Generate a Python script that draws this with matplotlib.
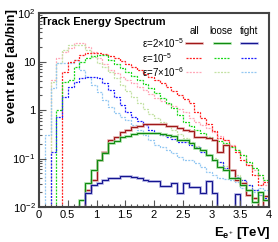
import numpy as np
import matplotlib
matplotlib.use('Agg')
import matplotlib.pyplot as plt
from matplotlib.lines import Line2D
from matplotlib.ticker import MultipleLocator, FixedLocator, LogLocator, NullFormatter

plt.rcParams['font.family'] = ['Liberation Sans', 'DejaVu Sans']
plt.rcParams['mathtext.fontset'] = 'custom'
plt.rcParams['mathtext.rm'] = 'Liberation Sans'
plt.rcParams['mathtext.it'] = 'Liberation Sans:italic'
plt.rcParams['mathtext.bf'] = 'Liberation Sans:bold'

# bins of 0.1 TeV from 0 to 4 TeV
edges = np.round(np.arange(0, 4.01, 0.1), 2)

# "all" selection
all_2e5 = [0, 0, 0, 0, 0, 0, 0, 0, 0.0225, 0.036,
           0.093, 0.136, 0.24, 0.277, 0.355, 0.39, 0.446, 0.467, 0.513, 0.51,
           0.51, 0.51, 0.47, 0.47, 0.425, 0.39, 0.372, 0.277, 0.277, 0.265,
           0.24, 0.136, 0.19, 0.058, 0.036, 0.031, 0.0177, 0.0154, 0, 0.0169]
all_1e5 = [0, 0, 0, 0, 6.1, 9.7, 10.7, 13.6, 15.0, 15.0,
           15.0, 14.3, 13.0, 11.8, 10.2, 8.9, 7.7, 6.7, 5.6, 4.8,
           4.2, 3.6, 3.0, 2.5, 2.05, 1.7, 1.4, 0.91, 0.68, 0.51,
           0.37, 0.265, 0.24, 0.18, 0.136, 0.093, 0.073, 0.046, 0.0285, 0.033]
all_7e6 = [0, 0, 4.2, 11.8, 15.7, 19.0, 24.1, 24.1, 19.9, 15.7,
           11.8, 8.9, 6.7, 5.8, 4.8, 4.2, 3.6, 3.0, 2.6, 2.15,
           1.78, 1.54, 1.33, 1.21, 1.05, 0.91, 0.68, 0.56, 0.49, 0.425,
           0.355, 0.29, 0.24, 0.19, 0.15, 0.118, 0.073, 0.058, 0.046, 0.0285]

# "loose" selection
loose_2e5 = [0, 0, 0, 0, 0, 0, 0, 0.014, 0.031, 0.058,
             0.093, 0.13, 0.208, 0.229, 0.277, 0.291, 0.323, 0.338, 0.338, 0.338,
             0.338, 0.323, 0.305, 0.291, 0.24, 0.24, 0.208, 0.165, 0.15, 0.118,
             0.093, 0.066, 0.058, 0.040, 0.040, 0.0285, 0.0225, 0.0127, 0.0205, 0.014]
loose_1e5 = [0, 0, 0, 1.0, 3.8, 4.2, 7.7, 9.7, 11.8, 13.0,
             13.6, 13.6, 10.7, 8.9, 7.4, 6.1, 5.05, 4.2, 3.46, 2.86,
             2.25, 1.78, 1.40, 1.10, 0.79, 0.56, 0.467, 0.39, 0.338, 0.277,
             0.24, 0.229, 0.208, 0.173, 0.15, 0.118, 0.085, 0.064, 0.046, 0.036]
loose_7e6 = [0, 0, 3.8, 9.35, 17.3, 21.9, 21.9, 21.9, 17.3, 12.4,
             9.35, 7.7, 6.1, 4.6, 3.3, 2.48, 1.86, 1.40, 1.05, 0.83,
             0.68, 0.56, 0.467, 0.39, 0.323, 0.265, 0.218, 0.18, 0.15, 0.124,
             0.102, 0.085, 0.07, 0.058, 0.046, 0.036, 0.0285, 0.0225, 0.0177, 0.014]

# "tight" selection
tight_2e5 = [0, 0, 0, 0, 0, 0, 0, 0, 0.0195, 0.0285,
             0.031, 0.036, 0.04, 0.04, 0.044, 0.044, 0.042, 0.04, 0.036, 0.034,
             0.034, 0.027, 0.027, 0.031, 0.0195, 0.031, 0.026, 0.026, 0.0195, 0.034,
             0.0195, 0, 0, 0, 0.0186, 0, 0, 0, 0, 0]
tight_1e5 = [0, 0, 0.136, 0.72, 1.86, 3.0, 3.8, 4.6, 4.8, 4.8,
             4.6, 3.6, 2.6, 1.86, 1.27, 0.91, 0.72, 0.59, 0.49, 0.39,
             0.338, 0.305, 0.277, 0.252, 0.218, 0.218, 0.19, 0.173, 0.136, 0.118,
             0.093, 0.085, 0.064, 0.058, 0.042, 0.036, 0.0285, 0.0225, 0.0177, 0.0154]
tight_7e6 = [0, 0.305, 2.86, 9.35, 9.35, 9.35, 10.7, 6.7, 4.8, 3.3,
             2.36, 1.62, 1.15, 0.87, 0.72, 0.62, 0.49, 0.39, 0.305, 0.24,
             0.19, 0.173, 0.15, 0.13, 0.107, 0.093, 0.093, 0.08, 0.066, 0.053,
             0.046, 0.04, 0.038, 0.036, 0.033, 0.0248, 0.0225, 0.0205, 0.0248, 0.0225]

col_labels = ['all', 'loose', 'tight']
row_labels = ['ε=2×10$^{-5}$', 'ε=10$^{-5}$', 'ε=7×10$^{-6}$']

dot = (0, (1.6, 1.0))
solid_style = {'red': ('#a01818', '#e0a0a0'),
               'green': ('#108a10', '#98dc98'),
               'blue': ('#141490', '#a0a0dc')}
dotted_1e5 = {'red': '#ff2020', 'green': '#18d818', 'blue': '#2020ff'}
dotted_7e6 = {'red': '#ffa8b8', 'green': '#c4e2a4', 'blue': '#94c8f2'}


def h(vals):
    v = np.asarray(vals, dtype=float)
    return np.where(v > 0, v, 1e-4)


fig = plt.figure(figsize=(2.78, 2.42), dpi=100)
ax = fig.add_axes([39 / 278, 1 - 207 / 242, 230 / 278, 194 / 242])

series = {'red': (all_2e5, all_1e5, all_7e6),
          'green': (loose_2e5, loose_1e5, loose_7e6),
          'blue': (tight_2e5, tight_1e5, tight_7e6)}

# pale dotted first, then dotted, then solid
for key, (s2, s1, s7) in series.items():
    ax.stairs(h(s7), edges, baseline=1e-4, color=dotted_7e6[key], lw=0.9, ls=dot)
for key, (s2, s1, s7) in series.items():
    ax.stairs(h(s1), edges, baseline=1e-4, color=dotted_1e5[key], lw=0.9, ls=dot)
for key, (s2, s1, s7) in series.items():
    ax.stairs(h(s2), edges, baseline=1e-4, color=solid_style[key][1], lw=1.9, alpha=0.8)
    ax.stairs(h(s2), edges, baseline=1e-4, color=solid_style[key][0], lw=0.8)

ax.set_yscale('log')
ax.set_xlim(0, 4)
ax.set_ylim(0.01, 100)

ax.xaxis.set_minor_locator(MultipleLocator(0.1))
ax.set_xticks(np.arange(0, 4.01, 0.5))
ax.set_xticklabels(['0', '0.5', '1', '1.5', '2', '2.5', '3', '3.5', '4'])
ax.yaxis.set_major_locator(FixedLocator([0.01, 0.1, 1, 10, 100]))
ax.yaxis.set_minor_locator(LogLocator(base=10, subs=np.arange(2, 10)))
ax.yaxis.set_minor_formatter(NullFormatter())
ax.set_yticklabels(['10$^{-2}$', '10$^{-1}$', '1', '10', '10$^{2}$'])

ax.tick_params(which='both', direction='in', top=False, right=False,
               color='#555555', labelsize=8, labelcolor='black')
ax.tick_params(which='major', length=5, width=0.8, pad=2.5)
ax.tick_params(which='minor', length=2.5, width=0.8)
for sp in ax.spines.values():
    sp.set_color('#444444')
    sp.set_linewidth(1.5)

ax.text(0.01, 0.955, 'Track Energy Spectrum', transform=ax.transAxes,
        fontsize=8, fontweight='bold', ha='left', va='center')

fig.text(12 / 278, 1 - 9 / 242, 'event rate [ab/bin]', rotation=90,
         fontsize=9.5, fontweight='bold', ha='center', va='top')
fig.text(271 / 278, 1 - 236 / 242, r'$\mathbf{E}_{\mathbf{e}^{+}}$ [TeV]',
         fontsize=9.5, fontweight='bold', ha='right', va='baseline')

# legend drawn by hand: header row plus 3x3 grid of line samples
col_x = [194, 221.5, 249]
row_y = [43, 58, 72]
for cx, lab in zip(col_x, col_labels):
    fig.text(cx / 278, 1 - 31 / 242, lab, fontsize=7, ha='center', va='center')
for ry, lab in zip(row_y, row_labels):
    fig.text(142 / 278, 1 - ry / 242, lab, fontsize=7, ha='left', va='center')
for cx, key in zip(col_x, ['red', 'green', 'blue']):
    x0, x1 = (cx - 8) / 278, (cx + 8) / 278
    fig.add_artist(Line2D([x0, x1], [1 - row_y[0] / 242] * 2,
                          color=solid_style[key][1], lw=1.9, alpha=0.8))
    fig.add_artist(Line2D([x0, x1], [1 - row_y[0] / 242] * 2,
                          color=solid_style[key][0], lw=0.8))
    fig.add_artist(Line2D([x0, x1], [1 - row_y[1] / 242] * 2,
                          color=dotted_1e5[key], lw=0.9, ls=dot))
    fig.add_artist(Line2D([x0, x1], [1 - row_y[2] / 242] * 2,
                          color=dotted_7e6[key], lw=0.9, ls=dot))

fig.savefig('out.png', dpi=100)
